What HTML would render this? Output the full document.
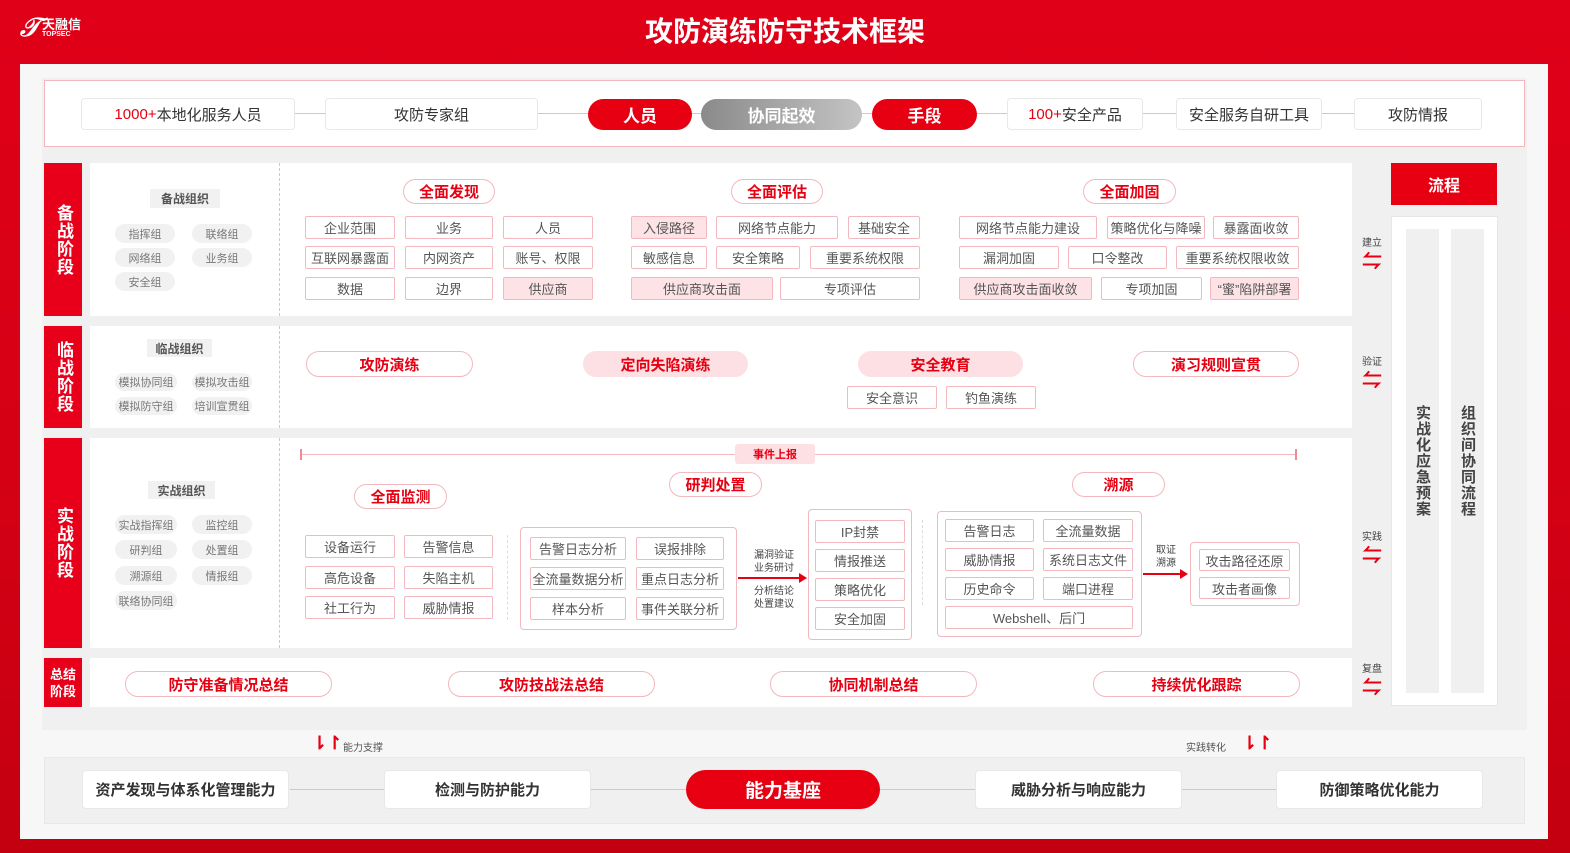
<!DOCTYPE html>
<html><head><meta charset="utf-8"><style>
*{margin:0;padding:0;box-sizing:border-box}
body{width:1570px;height:853px;position:relative;overflow:hidden;background:linear-gradient(180deg,#e00018 0%,#d40014 60%,#c30010 100%);font-family:"Liberation Sans","Noto Sans CJK SC",sans-serif;color:#444}
div{position:absolute}
.c{display:flex;align-items:center;justify-content:center;text-align:center;white-space:nowrap}
.b{border:1.5px solid #f2b8bd;background:#fff;font-size:13px;color:#555;border-radius:2px}
.p{background:#fde3e6}
.t{border:1.5px solid #f2b8bd;background:#fff;border-radius:14px;color:#e60012;font-weight:bold;font-size:15px}
.pk{background:#fde0e3}
.g{background:#f1f1f1;border-radius:10px;font-size:11px;color:#777}
.lab{background:#e8001a;color:#fff;font-weight:bold;font-size:17px;line-height:22px;writing-mode:vertical-rl;letter-spacing:1px}
.w{background:#fff}
.tb{border:1.5px solid #e8e8e8;background:#fff;border-radius:4px;font-size:15px;color:#333}
.rp{background:#e60012;color:#fff;font-weight:bold;font-size:17px;border-radius:16px}
.sm{font-size:10px;color:#444;line-height:13px;text-align:center;white-space:nowrap}
.arr{color:#e60012;font-size:20px;font-weight:bold;line-height:20px}
</style></head><body>
<!-- header -->
<div style="left:20px;top:14px;color:#fff;font-weight:bold;font-style:italic;font-size:26px;line-height:26px">𝒯</div>
<div style="left:42px;top:18px;color:#fff;font-weight:bold;font-size:13px;line-height:14px">天融信</div>
<div style="left:42px;top:31px;color:#fff;font-weight:bold;font-size:7px;line-height:8px">TOPSEC</div>
<div class="c" style="left:0;top:10px;width:1570px;height:40px;color:#fff;font-weight:bold;font-size:28px">攻防演练防守技术框架</div>
<!-- main panel -->
<div style="left:20px;top:64px;width:1528px;height:775px;background:#f7f7f7"></div>
<div style="left:42px;top:78px;width:1485px;height:652px;background:#f0f0f0"></div>
<!-- top row -->
<div style="left:44px;top:80px;width:1481px;height:67px;background:#fff;border:1.5px solid #f2b8bd"></div>
<div style="left:90px;top:113px;width:1390px;height:1px;background:#f2b8bd"></div>
<div class="c tb" style="left:81px;top:98px;width:214px;height:32px"><span style="color:#e60012">1000+</span>本地化服务人员</div>
<div class="c tb" style="left:325px;top:98px;width:213px;height:32px">攻防专家组</div>
<div class="c rp" style="left:588px;top:99px;width:104px;height:31px">人员</div>
<div class="c" style="left:701px;top:99px;width:161px;height:31px;border-radius:16px;background:linear-gradient(90deg,#8a8a8a,#c4c4c4);color:#fff;font-weight:bold;font-size:17px">协同起效</div>
<div class="c rp" style="left:872px;top:99px;width:105px;height:31px">手段</div>
<div class="c tb" style="left:1007px;top:98px;width:136px;height:32px"><span style="color:#e60012">100+</span>安全产品</div>
<div class="c tb" style="left:1176px;top:98px;width:146px;height:32px">安全服务自研工具</div>
<div class="c tb" style="left:1354px;top:98px;width:128px;height:32px">攻防情报</div>

<!-- stage 1 -->
<div class="c lab" style="left:44px;top:163px;width:38px;height:153px">备战阶段</div>
<div class="w" style="left:90px;top:163px;width:1262px;height:153px"></div>
<div style="left:279px;top:163px;width:0;height:153px;border-left:1px dashed #f2b8bd"></div>
<div class="c" style="left:150px;top:189px;width:70px;height:19px;background:#f1f1f1;font-size:12px;font-weight:bold;color:#555">备战组织</div>
<div class="c g" style="left:115px;top:224px;width:60px;height:19px">指挥组</div>
<div class="c g" style="left:192px;top:224px;width:60px;height:19px">联络组</div>
<div class="c g" style="left:115px;top:248px;width:60px;height:19px">网络组</div>
<div class="c g" style="left:192px;top:248px;width:60px;height:19px">业务组</div>
<div class="c g" style="left:115px;top:272px;width:60px;height:19px">安全组</div>
<div class="c t" style="left:403px;top:179px;width:92px;height:25px">全面发现</div>
<div class="c b" style="left:305px;top:216px;width:90px;height:23px">企业范围</div>
<div class="c b" style="left:405px;top:216px;width:88px;height:23px">业务</div>
<div class="c b" style="left:503px;top:216px;width:90px;height:23px">人员</div>
<div class="c b" style="left:305px;top:246px;width:90px;height:23px">互联网暴露面</div>
<div class="c b" style="left:405px;top:246px;width:88px;height:23px">内网资产</div>
<div class="c b" style="left:503px;top:246px;width:90px;height:23px">账号、权限</div>
<div class="c b" style="left:305px;top:277px;width:90px;height:23px">数据</div>
<div class="c b" style="left:405px;top:277px;width:88px;height:23px">边界</div>
<div class="c b p" style="left:503px;top:277px;width:90px;height:23px">供应商</div>
<div class="c t" style="left:731px;top:179px;width:92px;height:25px">全面评估</div>
<div class="c b p" style="left:631px;top:216px;width:76px;height:23px">入侵路径</div>
<div class="c b" style="left:716px;top:216px;width:122px;height:23px">网络节点能力</div>
<div class="c b" style="left:848px;top:216px;width:72px;height:23px">基础安全</div>
<div class="c b" style="left:631px;top:246px;width:76px;height:23px">敏感信息</div>
<div class="c b" style="left:716px;top:246px;width:84px;height:23px">安全策略</div>
<div class="c b" style="left:810px;top:246px;width:110px;height:23px">重要系统权限</div>
<div class="c b p" style="left:631px;top:277px;width:142px;height:23px">供应商攻击面</div>
<div class="c b" style="left:780px;top:277px;width:140px;height:23px">专项评估</div>
<div class="c t" style="left:1083px;top:179px;width:93px;height:25px">全面加固</div>
<div class="c b" style="left:959px;top:216px;width:138px;height:23px">网络节点能力建设</div>
<div class="c b" style="left:1107px;top:216px;width:98px;height:23px">策略优化与降噪</div>
<div class="c b" style="left:1213px;top:216px;width:86px;height:23px">暴露面收敛</div>
<div class="c b" style="left:959px;top:246px;width:100px;height:23px">漏洞加固</div>
<div class="c b" style="left:1068px;top:246px;width:99px;height:23px">口令整改</div>
<div class="c b" style="left:1176px;top:246px;width:123px;height:23px">重要系统权限收敛</div>
<div class="c b p" style="left:959px;top:277px;width:133px;height:23px">供应商攻击面收敛</div>
<div class="c b" style="left:1101px;top:277px;width:101px;height:23px">专项加固</div>
<div class="c b p" style="left:1210px;top:277px;width:89px;height:23px">“蜜”陷阱部署</div>

<!-- stage 2 -->
<div class="c lab" style="left:44px;top:326px;width:38px;height:102px">临战阶段</div>
<div class="w" style="left:90px;top:326px;width:1262px;height:102px"></div>
<div style="left:279px;top:326px;width:0;height:102px;border-left:1px dashed #f2b8bd"></div>
<div class="c" style="left:147px;top:339px;width:65px;height:18px;background:#f1f1f1;font-size:12px;font-weight:bold;color:#555">临战组织</div>
<div class="c g" style="left:115px;top:373px;width:62px;height:18px">模拟协同组</div>
<div class="c g" style="left:192px;top:373px;width:60px;height:18px">模拟攻击组</div>
<div class="c g" style="left:115px;top:397px;width:62px;height:18px">模拟防守组</div>
<div class="c g" style="left:192px;top:397px;width:60px;height:18px">培训宣贯组</div>
<div class="c t" style="left:306px;top:351px;width:167px;height:26px">攻防演练</div>
<div class="c t pk" style="left:583px;top:351px;width:165px;height:26px;border-color:#fde0e3">定向失陷演练</div>
<div class="c t pk" style="left:858px;top:351px;width:165px;height:26px;border-color:#fde0e3">安全教育</div>
<div class="c t" style="left:1133px;top:351px;width:166px;height:26px">演习规则宣贯</div>
<div class="c b" style="left:847px;top:386px;width:90px;height:23px">安全意识</div>
<div class="c b" style="left:946px;top:386px;width:90px;height:23px">钓鱼演练</div>

<!-- stage 3 -->
<div class="c lab" style="left:44px;top:438px;width:38px;height:210px">实战阶段</div>
<div class="w" style="left:90px;top:438px;width:1262px;height:210px"></div>
<div style="left:279px;top:438px;width:0;height:210px;border-left:1px dashed #f2b8bd"></div>
<div class="c" style="left:148px;top:481px;width:67px;height:18px;background:#f1f1f1;font-size:12px;font-weight:bold;color:#555">实战组织</div>
<div class="c g" style="left:115px;top:515px;width:62px;height:19px">实战指挥组</div>
<div class="c g" style="left:192px;top:515px;width:60px;height:19px">监控组</div>
<div class="c g" style="left:115px;top:540px;width:62px;height:19px">研判组</div>
<div class="c g" style="left:192px;top:540px;width:60px;height:19px">处置组</div>
<div class="c g" style="left:115px;top:566px;width:62px;height:19px">溯源组</div>
<div class="c g" style="left:192px;top:566px;width:60px;height:19px">情报组</div>
<div class="c g" style="left:115px;top:591px;width:62px;height:19px">联络协同组</div>
<div style="left:300px;top:454px;width:997px;height:1px;background:#f2b8bd"></div>
<div style="left:300px;top:449px;width:2px;height:11px;background:#f08a94"></div>
<div style="left:1295px;top:449px;width:2px;height:11px;background:#f08a94"></div>
<div class="c" style="left:735px;top:444px;width:80px;height:20px;background:#fde0e3;color:#e60012;font-size:11px;font-weight:bold;border-radius:3px">事件上报</div>
<div class="c t" style="left:354px;top:484px;width:93px;height:25px">全面监测</div>
<div class="c b" style="left:305px;top:535px;width:90px;height:23px">设备运行</div>
<div class="c b" style="left:404px;top:535px;width:89px;height:23px">告警信息</div>
<div class="c b" style="left:305px;top:566px;width:90px;height:23px">高危设备</div>
<div class="c b" style="left:404px;top:566px;width:89px;height:23px">失陷主机</div>
<div class="c b" style="left:305px;top:596px;width:90px;height:23px">社工行为</div>
<div class="c b" style="left:404px;top:596px;width:89px;height:23px">威胁情报</div>
<div style="left:507px;top:535px;width:0;height:85px;border-left:1px dashed #ddd"></div>
<div class="c t" style="left:669px;top:472px;width:93px;height:25px">研判处置</div>
<div style="left:520px;top:527px;width:217px;height:103px;border:1.5px solid #f2b8bd;border-radius:4px;background:#fff"></div>
<div class="c b" style="left:530px;top:537px;width:96px;height:23px">告警日志分析</div>
<div class="c b" style="left:636px;top:537px;width:88px;height:23px">误报排除</div>
<div class="c b" style="left:530px;top:567px;width:96px;height:23px">全流量数据分析</div>
<div class="c b" style="left:636px;top:567px;width:88px;height:23px">重点日志分析</div>
<div class="c b" style="left:530px;top:597px;width:96px;height:23px">样本分析</div>
<div class="c b" style="left:636px;top:597px;width:88px;height:23px">事件关联分析</div>
<div class="sm" style="left:748px;top:549px;width:52px">漏洞验证<br>业务研讨</div>
<div class="sm" style="left:748px;top:585px;width:52px">分析结论<br>处置建议</div>
<div style="left:738px;top:577px;width:62px;height:2px;background:#e60012"></div>
<div style="left:799px;top:573px;width:0;height:0;border-left:8px solid #e60012;border-top:5px solid transparent;border-bottom:5px solid transparent"></div>
<div style="left:808px;top:509px;width:104px;height:131px;border:1.5px solid #f2b8bd;border-radius:4px;background:#fff"></div>
<div class="c b" style="left:815px;top:520px;width:90px;height:23px">IP封禁</div>
<div class="c b" style="left:815px;top:549px;width:90px;height:23px">情报推送</div>
<div class="c b" style="left:815px;top:578px;width:90px;height:23px">策略优化</div>
<div class="c b" style="left:815px;top:607px;width:90px;height:23px">安全加固</div>
<div style="left:922px;top:520px;width:0;height:85px;border-left:1px dashed #ddd"></div>
<div class="c t" style="left:1072px;top:472px;width:93px;height:25px">溯源</div>
<div style="left:937px;top:511px;width:205px;height:126px;border:1.5px solid #f2b8bd;border-radius:4px;background:#fff"></div>
<div class="c b" style="left:945px;top:519px;width:89px;height:23px">告警日志</div>
<div class="c b" style="left:1043px;top:519px;width:90px;height:23px">全流量数据</div>
<div class="c b" style="left:945px;top:548px;width:89px;height:23px">威胁情报</div>
<div class="c b" style="left:1043px;top:548px;width:90px;height:23px">系统日志文件</div>
<div class="c b" style="left:945px;top:577px;width:89px;height:23px">历史命令</div>
<div class="c b" style="left:1043px;top:577px;width:90px;height:23px">端口进程</div>
<div class="c b" style="left:945px;top:606px;width:188px;height:23px">Webshell、后门</div>
<div class="sm" style="left:1148px;top:544px;width:36px">取证<br>溯源</div>
<div style="left:1143px;top:573px;width:38px;height:2px;background:#e60012"></div>
<div style="left:1180px;top:569px;width:0;height:0;border-left:8px solid #e60012;border-top:5px solid transparent;border-bottom:5px solid transparent"></div>
<div style="left:1190px;top:542px;width:110px;height:64px;border:1.5px solid #f2b8bd;border-radius:4px;background:#fff"></div>
<div class="c b" style="left:1199px;top:549px;width:91px;height:22px">攻击路径还原</div>
<div class="c b" style="left:1199px;top:577px;width:91px;height:22px">攻击者画像</div>

<!-- stage 4 -->
<div class="c" style="left:44px;top:658px;width:38px;height:49px;background:#e8001a;color:#fff;font-weight:bold;font-size:13px;line-height:17px;white-space:normal">总结<br>阶段</div>
<div class="w" style="left:90px;top:658px;width:1262px;height:49px"></div>
<div class="c t" style="left:125px;top:671px;width:207px;height:26px">防守准备情况总结</div>
<div class="c t" style="left:448px;top:671px;width:207px;height:26px">攻防技战法总结</div>
<div class="c t" style="left:770px;top:671px;width:207px;height:26px">协同机制总结</div>
<div class="c t" style="left:1093px;top:671px;width:207px;height:26px">持续优化跟踪</div>

<!-- right process -->
<div class="sm" style="left:1360px;top:237px;width:24px">建立</div>
<div class="arr" style="left:1362px;top:252px">⇋</div>
<div class="sm" style="left:1360px;top:356px;width:24px">验证</div>
<div class="arr" style="left:1362px;top:371px">⇋</div>
<div class="sm" style="left:1360px;top:531px;width:24px">实践</div>
<div class="arr" style="left:1362px;top:546px">⇋</div>
<div class="sm" style="left:1360px;top:663px;width:24px">复盘</div>
<div class="arr" style="left:1362px;top:678px">⇋</div>
<div class="c" style="left:1391px;top:163px;width:106px;height:42px;background:#e60012;color:#fff;font-weight:bold;font-size:16px">流程</div>
<div style="left:1391px;top:216px;width:107px;height:490px;background:#fff;border:1px solid #e6e6e6"></div>
<div class="c" style="left:1406px;top:229px;width:33px;height:464px;background:#f0f0f0;writing-mode:vertical-rl;font-weight:bold;font-size:15px;color:#444;letter-spacing:1px">实战化应急预案</div>
<div class="c" style="left:1451px;top:229px;width:33px;height:464px;background:#f0f0f0;writing-mode:vertical-rl;font-weight:bold;font-size:15px;color:#444;letter-spacing:1px">组织间协同流程</div>

<!-- bottom -->
<div class="arr" style="left:312px;top:733px;font-size:18px">⇂↾</div>
<div style="left:343px;top:739px;font-size:10px;color:#555">能力支撑</div>
<div style="left:1186px;top:739px;font-size:10px;color:#555">实践转化</div>
<div class="arr" style="left:1242px;top:733px;font-size:18px">⇂↾</div>
<div style="left:44px;top:757px;width:1481px;height:67px;background:#f0f0f0;border:1px solid #e8e8e8"></div>
<div style="left:290px;top:789px;width:1190px;height:1px;background:#f2b8bd"></div>
<div class="c tb" style="left:82px;top:770px;width:207px;height:39px;font-weight:bold">资产发现与体系化管理能力</div>
<div class="c tb" style="left:384px;top:770px;width:207px;height:39px;font-weight:bold">检测与防护能力</div>
<div class="c" style="left:686px;top:770px;width:194px;height:39px;background:#e60012;border-radius:20px;color:#fff;font-weight:bold;font-size:19px">能力基座</div>
<div class="c tb" style="left:975px;top:770px;width:207px;height:39px;font-weight:bold">威胁分析与响应能力</div>
<div class="c tb" style="left:1276px;top:770px;width:207px;height:39px;font-weight:bold">防御策略优化能力</div>
</body></html>
